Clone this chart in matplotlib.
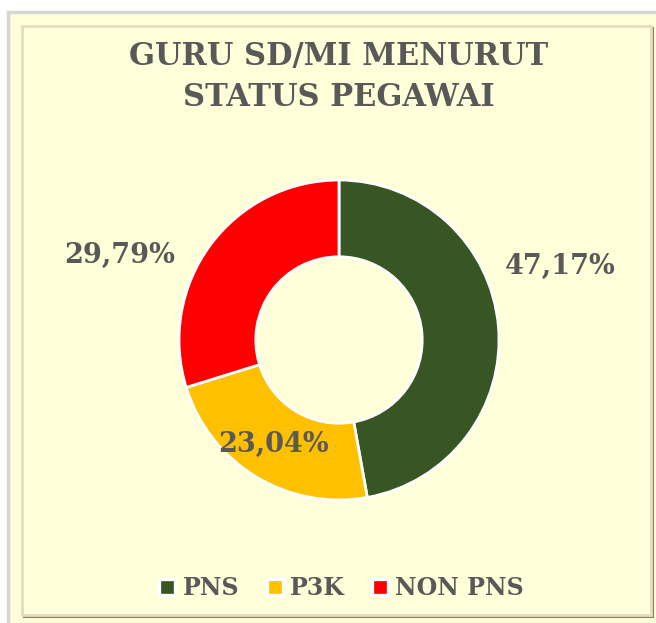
import matplotlib
matplotlib.use("Agg")
import matplotlib.pyplot as plt
from matplotlib.patches import Rectangle
from matplotlib.lines import Line2D

# ---- data ----
categories = ["PNS", "P3K", "NON PNS"]
values = [47.17, 23.04, 29.79]
labels = ["47,17%", "23,04%", "29,79%"]
colors = ["#375623", "#FFC000", "#FF0000"]
title = "GURU SD/MI MENURUT\nSTATUS PEGAWAI"

# layout (label positions in data units relative to donut center)
label_pos = [(1.38, 0.46), (-0.41, -0.65), (-1.37, 0.53)]

W, H = 656, 623
fig = plt.figure(figsize=(W / 100, H / 100), dpi=100)
fig.patch.set_facecolor("white")

bg = "#FFFFD9"
text_col = "#595959"
font = "DejaVu Serif"

def px_rect(x0, y0, x1, y1, **kw):
    r = Rectangle((x0 / W, 1 - y1 / H), (x1 - x0) / W, (y1 - y0) / H,
                  transform=fig.transFigure, **kw)
    fig.add_artist(r)
    return r

# outer box
px_rect(8, 12, 660, 630, facecolor=bg, edgecolor="#D6D6D6", linewidth=2.5, zorder=0)
# inner panel shadow + border
px_rect(24, 28, 653, 617, facecolor="none", edgecolor="#8C8266", linewidth=1.5, zorder=1)
px_rect(22, 26, 651, 615, facecolor=bg, edgecolor="#E6DCBE", linewidth=2.0, zorder=1)

# donut
cx, cy, R = 339, 340, 160
ax = fig.add_axes([(cx - R) / W, 1 - (cy + R) / H, 2 * R / W, 2 * R / H])
ax.set_zorder(2)
ax.patch.set_alpha(0)
wedges, _ = ax.pie(values, colors=colors, startangle=90, counterclock=False,
                   radius=1.0,
                   wedgeprops=dict(width=0.48, edgecolor="white", linewidth=2))
ax.set_xlim(-1, 1)
ax.set_ylim(-1, 1)
ax.set_aspect("equal")
ax.axis("off")

for lab, (x, y) in zip(labels, label_pos):
    ax.text(x, y, lab, ha="center", va="center", fontsize=19.5, fontweight="bold",
            color=text_col, family=font, clip_on=False)

fig.text(cx / W, 1 - 77 / H, title, ha="center", va="center", fontsize=22,
         fontweight="bold", color=text_col, family=font, linespacing=1.38,
         zorder=3)

handles = [Line2D([], [], marker="s", linestyle="none", markersize=11.5,
                  markerfacecolor=c, markeredgecolor="white", markeredgewidth=2.4)
           for c in colors]
leg = fig.legend(handles, categories, loc="center", ncol=3,
                 bbox_to_anchor=(341 / W, 1 - 588 / H), frameon=False,
                 prop=dict(family=font, weight="bold", size=17),
                 handlelength=0.8, handletextpad=0.25, columnspacing=1.1)
for t in leg.get_texts():
    t.set_color(text_col)
leg.set_zorder(3)

fig.savefig("out.png", dpi=100, facecolor=fig.get_facecolor())
